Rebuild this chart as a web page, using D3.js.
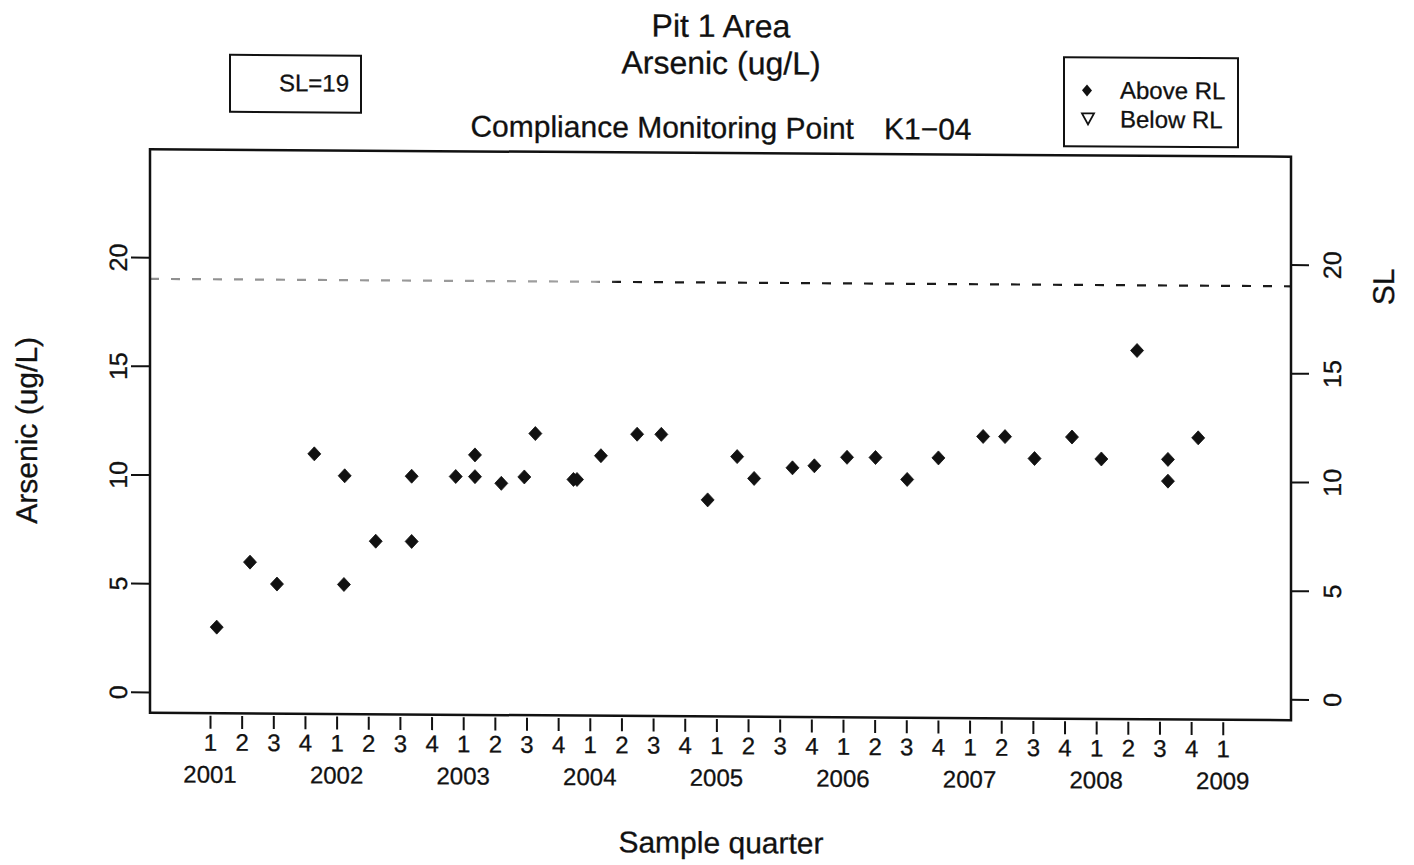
<!DOCTYPE html>
<html>
<head>
<meta charset="utf-8">
<script src="https://cdn.jsdelivr.net/npm/d3@7/dist/d3.min.js"></script>
<style>
  html, body { margin: 0; padding: 0; background: #fff; }
  svg { display: block; }
  text { font-family: "Liberation Sans", Arial, Helvetica, sans-serif; fill: #111; stroke: #111; stroke-width: 0.3; }
</style>
</head>
<body>
<svg id="chart" width="1414" height="865"></svg>
<script>
// Sample times (decimal years) and arsenic results, ug/L
const sampleTime = [
  2001.053, 2001.316, 2001.529, 2001.824, 2002.058, 2002.064, 2002.309, 2002.593,
  2002.593, 2002.941, 2003.093, 2003.093, 2003.301, 2003.483, 2003.570, 2003.871,
  2003.899, 2004.088, 2004.374, 2004.565, 2004.931, 2005.164, 2005.298, 2005.601,
  2005.774, 2006.032, 2006.257, 2006.507, 2006.754, 2007.107, 2007.280, 2007.513,
  2007.809, 2008.041, 2008.323, 2008.567, 2008.567, 2008.806
];
const arsenic = [
  3, 6, 5, 11, 5, 10, 7, 10,
  7, 10, 11, 10, 9.7, 10, 12, 9.9,
  9.9, 11, 12, 12, 9, 11, 10, 10.5,
  10.6, 11, 11, 10, 11, 12, 12, 11,
  12, 11, 16, 11, 10, 12
];
const sampleFlag = arsenic.map(() => "Above RL");

// Standard limit
const standardLimit = 19;

// Axis ticks and labels
const years = [2001, 2002, 2003, 2004, 2005, 2006, 2007, 2008, 2009];
const quarterLabels = ["1", "2", "3", "4"];
const valueTicks = [0, 5, 10, 15, 20];
const xLimits = [2000.526, 2009.539];
const yLimits = [-0.96, 24.96];

const titleLines = ["Pit 1 Area", "Arsenic (ug/L)"];
const subTitle = ["Compliance Monitoring Point", "K1\u221204"];
const legendItems = ["Above RL", "Below RL"];

const svg = d3.select("#chart");
svg.append("rect").attr("width", 1414).attr("height", 865).attr("fill", "#fff");

// slight skew of the whole page
const root = svg.append("g").attr("transform", "matrix(1,0.0065,0,1,0,-4.68)");

const box = { left: 150, right: 1291, top: 153, bottom: 716.5 };
const x = d3.scaleLinear().domain(xLimits).range([box.left, box.right]);
const y = d3.scaleLinear().domain(yLimits).range([box.bottom, box.top]);

// Titles
root.append("text").attr("x", 721).attr("y", 37).attr("text-anchor", "middle")
  .attr("font-size", 32).text(titleLines[0]);
root.append("text").attr("x", 721).attr("y", 74).attr("text-anchor", "middle")
  .attr("font-size", 32).text(titleLines[1]);
const st = root.append("text").attr("x", 721).attr("y", 138).attr("text-anchor", "middle")
  .attr("font-size", 30);
st.append("tspan").text(subTitle[0]);
st.append("tspan").attr("dx", 30).text(subTitle[1]);

// SL box
root.append("rect").attr("x", 230).attr("y", 58).attr("width", 131).attr("height", 57)
  .attr("fill", "none").attr("stroke", "#111").attr("stroke-width", 2);
root.append("text").attr("x", 349).attr("y", 94).attr("text-anchor", "end")
  .attr("font-size", 24).text("SL=" + standardLimit);

// Legend
const lg = root.append("g");
lg.append("rect").attr("x", 1064).attr("y", 55).attr("width", 174).attr("height", 89)
  .attr("fill", "none").attr("stroke", "#111").attr("stroke-width", 2);
lg.append("path").attr("d", "M0,-6L5,0L0,6L-5,0Z").attr("transform", "translate(1087,88)")
  .attr("fill", "#111");
lg.append("path").attr("d", "M-6,-5L6,-5L0,6Z").attr("transform", "translate(1088,116)")
  .attr("fill", "none").attr("stroke", "#111").attr("stroke-width", 1.8);
legendItems.forEach((t, i) => {
  lg.append("text").attr("x", 1120).attr("y", 96 + i * 29).attr("font-size", 24).text(t);
});

// Dashed SL line (lighter on the left)
const defs = svg.append("defs");
const grad = defs.append("linearGradient").attr("id", "slGrad")
  .attr("gradientUnits", "userSpaceOnUse")
  .attr("x1", box.left).attr("x2", box.right).attr("y1", 0).attr("y2", 0);
grad.append("stop").attr("offset", 0).attr("stop-color", "#8f8f8f");
grad.append("stop").attr("offset", 0.39).attr("stop-color", "#a0a0a0");
grad.append("stop").attr("offset", 0.41).attr("stop-color", "#1a1a1a");
grad.append("stop").attr("offset", 1).attr("stop-color", "#1a1a1a");
root.append("line")
  .attr("x1", box.left).attr("x2", box.right)
  .attr("y1", y(standardLimit)).attr("y2", y(standardLimit) + 0.001)
  .attr("stroke", "url(#slGrad)").attr("stroke-width", 2.2)
  .attr("stroke-dasharray", "9,12");

// Plot frame
root.append("rect").attr("x", box.left).attr("y", box.top)
  .attr("width", box.right - box.left).attr("height", box.bottom - box.top)
  .attr("fill", "none").attr("stroke", "#111").attr("stroke-width", 2.5);

// Left axis
const leftAxis = root.append("g").attr("transform", `translate(${box.left},0)`)
  .call(d3.axisLeft(y).tickValues(valueTicks).tickSize(19).tickFormat(d3.format("d")));
leftAxis.select(".domain").remove();
leftAxis.selectAll("line").attr("stroke", "#111").attr("stroke-width", 2);
leftAxis.selectAll("text")
  .attr("transform", "rotate(-90)").attr("x", 0).attr("y", -23).attr("dy", 0)
  .attr("text-anchor", "middle").attr("font-size", 25).attr("fill", "#111")
  .style("font-family", "'Liberation Sans', Arial, sans-serif");

// Right axis
const rightAxis = root.append("g").attr("transform", `translate(${box.right},0)`)
  .call(d3.axisRight(y).tickValues(valueTicks).tickSize(18).tickFormat(d3.format("d")));
rightAxis.select(".domain").remove();
rightAxis.selectAll("line").attr("stroke", "#111").attr("stroke-width", 2);
rightAxis.selectAll("text")
  .attr("transform", "rotate(-90)").attr("x", 0).attr("y", 50).attr("dy", 0)
  .attr("text-anchor", "middle").attr("font-size", 25).attr("fill", "#111")
  .style("font-family", "'Liberation Sans', Arial, sans-serif");

// Quarter axis
const quarterTicks = [];
years.forEach(yr => quarterLabels.forEach((q, i) => {
  const t = yr + i / 4;
  if (t <= years[years.length - 1]) quarterTicks.push({ t, q });
}));
const bottomAxis = root.append("g").attr("transform", `translate(0,${box.bottom + 2.5})`)
  .call(d3.axisBottom(x).tickValues(quarterTicks.map(d => d.t)).tickSize(13)
    .tickFormat((d, i) => quarterTicks[i].q));
bottomAxis.select(".domain").remove();
bottomAxis.selectAll("line").attr("stroke", "#111").attr("stroke-width", 2);
bottomAxis.selectAll("text").attr("y", 35).attr("dy", 0).attr("font-size", 24)
  .attr("fill", "#111").style("font-family", "'Liberation Sans', Arial, sans-serif");

root.selectAll(".yearLabel").data(years).join("text")
  .attr("class", "yearLabel")
  .attr("x", d => x(d)).attr("y", 786).attr("text-anchor", "middle")
  .attr("font-size", 24).text(d => d);

// Axis titles
root.append("text").attr("x", 721).attr("y", 853).attr("text-anchor", "middle")
  .attr("font-size", 30).text("Sample quarter");
root.append("text")
  .attr("transform", `translate(37,${(box.top + box.bottom) / 2}) rotate(-90)`)
  .attr("text-anchor", "middle").attr("font-size", 30).text("Arsenic (ug/L)");
root.append("text")
  .attr("transform", `translate(1394,${y(standardLimit)}) rotate(-90)`)
  .attr("text-anchor", "middle").attr("font-size", 30).text("SL");

// Sample points
const samples = sampleTime.map((t, i) => ({ t, v: arsenic[i], flag: sampleFlag[i] }));
root.selectAll(".pt").data(samples).join("path")
  .attr("class", "pt")
  .attr("d", d => d.flag === "Above RL" ? "M0,-7L6.5,0L0,7L-6.5,0Z" : "M-6,-5L6,-5L0,6Z")
  .attr("transform", d => `translate(${x(d.t)},${y(d.v)})`)
  .attr("fill", d => d.flag === "Above RL" ? "#111" : "none")
  .attr("stroke", "#111").attr("stroke-width", 0.8);
</script>
</body>
</html>
